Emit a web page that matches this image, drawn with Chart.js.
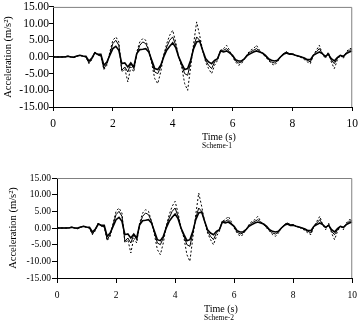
<!DOCTYPE html>
<html>
<head>
<meta charset="utf-8">
<script src="https://cdn.jsdelivr.net/npm/chart.js@4"></script>
<style>
  html, body { margin: 0; padding: 0; background: #fff; }
  body { width: 364px; height: 326px; position: relative; overflow: hidden; font-family: "Liberation Serif", serif; }
  .box { position: absolute; left: 0; width: 364px; height: 163px; }
  .lbl { position: absolute; color: #000; white-space: nowrap; line-height: 1; }
</style>
</head>
<body>
<div class="box" style="top:0"><canvas id="chart1" width="364" height="163"></canvas></div>
<div class="box" style="top:163px"><canvas id="chart2" width="364" height="163"></canvas></div>
<div class="lbl" style="left:202px;top:132px;font-size:10px">Time (s)</div>
<div class="lbl" style="left:202px;top:142px;font-size:7.5px">Scheme-1</div>
<div class="lbl" style="left:204px;top:304px;font-size:10px">Time (s)</div>
<div class="lbl" style="left:204px;top:314px;font-size:7.5px">Scheme-2</div>
<script>
// time axis (s)
const times = [
  0.0, 0.1, 0.2, 0.3, 0.4, 0.5, 0.6, 0.7, 0.8, 0.9,
  1.0, 1.1, 1.2, 1.3, 1.4, 1.5, 1.6, 1.7, 1.8, 1.9,
  2.0, 2.1, 2.2, 2.3, 2.4, 2.5, 2.6, 2.7, 2.8, 2.9,
  3.0, 3.1, 3.2, 3.3, 3.4, 3.5, 3.6, 3.7, 3.8, 3.9,
  4.0, 4.1, 4.2, 4.3, 4.4, 4.5, 4.6, 4.7, 4.8, 4.9,
  5.0, 5.1, 5.2, 5.3, 5.4, 5.5, 5.6, 5.7, 5.8, 5.9,
  6.0, 6.1, 6.2, 6.3, 6.4, 6.5, 6.6, 6.7, 6.8, 6.9,
  7.0, 7.1, 7.2, 7.3, 7.4, 7.5, 7.6, 7.7, 7.8, 7.9,
  8.0, 8.1, 8.2, 8.3, 8.4, 8.5, 8.6, 8.7, 8.8, 8.9,
  9.0, 9.1, 9.2, 9.3, 9.4, 9.5, 9.6, 9.7, 9.8, 9.9,
  10.0,
];

// acceleration (m/s2) - thick solid trace
const accelThick = [
  0, 0, 0, 0, 0, 0.2, 0, 0, 0.3, 0.5,
  0.3, 0.2, -1.2, -0.3, 1.2, 0.8, 0.8, -2.5, -1.5, 0.5,
  2.5, 3.2, 2.0, -2.0, -1.8, -3.0, -1.8, -3.0, 1.0, 2.2,
  2.3, 2.5, 1.5, -1.0, -3.5, -3.8, -2.5, 0.0, 2.0, 3.2,
  4.2, 2.8, 0.0, -2.0, -3.8, -3.5, -1.0, 2.5, 4.5, 4.8,
  2.0, -0.5, -1.5, -2.0, -1.0, -0.5, 1.8, 1.5, 1.8, 1.2,
  0.5, -0.8, -1.2, -1.2, -0.5, 0.5, 1.0, 1.5, 1.8, 1.5,
  1.2, 0.5, -0.5, -1.0, -1.2, -1.0, 0.0, 0.8, 1.2, 0.8,
  0.8, 0.5, 0.3, 0.0, -0.3, -0.8, -0.8, 0.5, 1.0, 1.5,
  1.0, 0.2, 0.8, -0.5, -1.2, -0.2, 0.5, 0.2, 1.0, 1.5,
  1.8,
];

// thin solid trace
const accelThin = [
  0, 0, 0, 0, 0.1, 0.3, 0, -0.2, 0.2, 0.5,
  0.2, 0, -1.8, -0.5, 1.5, 0.5, 0.5, -3.5, -2.0, 1.0,
  4.0, 5.0, 3.5, -4.0, -3.0, -4.5, -2.0, -3.5, 1.0, 3.5,
  4.5, 4.0, 2.0, -1.5, -4.5, -5.0, -3.0, 0.5, 3.0, 5.0,
  6.0, 3.5, 0.0, -2.5, -5.0, -5.5, -1.5, 3.0, 6.0, 5.0,
  2.0, -1.0, -2.5, -3.5, -1.5, -0.5, 2.0, 2.0, 2.5, 1.5,
  0.3, -1.2, -1.8, -1.5, -0.5, 0.8, 1.5, 2.0, 2.5, 1.8,
  1.0, 0.2, -0.8, -1.5, -1.8, -1.2, 0.0, 1.0, 1.5, 1.0,
  1.0, 0.5, 0.2, 0.0, -0.5, -1.0, -1.5, 0.5, 1.5, 2.5,
  1.0, 0.0, 1.0, -1.0, -2.0, -0.5, 0.5, 0.0, 1.2, 2.0,
  2.2,
];

// dashed trace
const accelDashed = [
  0, 0, 0, 0, 0, 0.2, 0, -0.2, 0.3, 0.5,
  0.2, 0, -2.0, -0.8, 1.5, 0.5, 0.3, -3.8, -2.5, 1.5,
  5.0, 6.0, 4.5, -4.5, -3.5, -7.5, -3.0, -4.5, 1.5, 4.5,
  5.5, 5.0, 2.0, -2.0, -6.5, -8.0, -4.5, 0.5, 4.0, 6.5,
  8.0, 4.5, 0.0, -3.0, -8.0, -10.0, -3.0, 4.0, 10.5, 6.5,
  2.0, -1.5, -3.5, -5.0, -2.5, -1.0, 2.0, 2.5, 3.5, 2.0,
  0.0, -1.5, -2.5, -2.0, -0.5, 1.0, 2.0, 2.5, 3.5, 2.0,
  1.0, 0.0, -1.0, -2.0, -2.5, -1.5, 0.0, 1.0, 1.5, 1.0,
  1.0, 0.5, 0.2, -0.2, -0.8, -1.5, -2.0, 0.5, 2.0, 3.5,
  1.0, -0.5, 1.5, -1.5, -3.5, -1.0, 0.5, -0.5, 1.5, 2.5,
  2.5,
];

// scheme-2 traces read the same as scheme-1
const schemes = [
  { id: "chart1", thick: accelThick, thin: accelThin, dashed: accelDashed,
    yWidth: 53, xHeight: 56, pad: { top: 4, right: 6 }, tickFont: 11.5, tickLen: 4, yPad: 0, xPad: 6, titlePad: 2 },
  { id: "chart2", thick: accelThick, thin: accelThin, dashed: accelDashed,
    yWidth: 57, xHeight: 48, pad: { top: 15, right: 9 }, tickFont: 9.5, tickLen: 5, yPad: 1, xPad: 7, titlePad: 7 },
];

const toPoints = (vals) => vals.map((v, i) => ({ x: times[i], y: v }));

// gray frame on top and right of the plot
const frame = {
  id: "frame",
  afterDraw(chart) {
    const { ctx, chartArea: a } = chart;
    ctx.save();
    ctx.strokeStyle = "#808080";
    ctx.lineWidth = 1;
    ctx.beginPath();
    ctx.moveTo(a.left, a.top + 0.5);
    ctx.lineTo(a.right - 0.5, a.top + 0.5);
    ctx.lineTo(a.right - 0.5, a.bottom);
    ctx.stroke();
    ctx.restore();
  },
};

function createChart(s) {
  const font = { family: "Liberation Serif", size: s.tickFont };
  return new Chart(document.getElementById(s.id), {
    type: "line",
    data: {
      datasets: [
        { data: toPoints(s.dashed), borderColor: "#000", borderWidth: 1, borderDash: [2, 2] },
        { data: toPoints(s.thin), borderColor: "#000", borderWidth: 1 },
        { data: toPoints(s.thick), borderColor: "#000", borderWidth: 1.6 },
      ],
    },
    options: {
      responsive: false,
      animation: false,
      events: [],
      elements: { point: { radius: 0 }, line: { tension: 0 } },
      layout: { padding: { left: 0, top: s.pad.top, right: s.pad.right, bottom: 0 } },
      plugins: { legend: { display: false }, tooltip: { enabled: false } },
      scales: {
        x: {
          type: "linear",
          min: 0,
          max: 10,
          afterFit: (sc) => { sc.height = s.xHeight; },
          ticks: { stepSize: 2, color: "#000", font, padding: s.xPad, maxRotation: 0, autoSkip: false },
          grid: { drawOnChartArea: false, drawTicks: true, tickLength: s.tickLen, color: "#000" },
          border: { color: "#000", width: 1 },
        },
        y: {
          min: -15,
          max: 15,
          afterFit: (sc) => { sc.width = s.yWidth; },
          ticks: { stepSize: 5, color: "#000", font, padding: s.yPad, autoSkip: false,
                   callback: (v) => v.toFixed(2) },
          grid: { drawOnChartArea: false, drawTicks: true, tickLength: s.tickLen, color: "#000" },
          border: { color: "#000", width: 1 },
          title: {
            display: true,
            text: "Acceleration (m/s²)",
            color: "#000",
            font: { family: "Liberation Serif", size: 10.5 },
            padding: { top: s.titlePad, bottom: 0 },
          },
        },
      },
    },
    plugins: [frame],
  });
}

const charts = schemes.map((s) => createChart(s));
</script>
</body>
</html>
